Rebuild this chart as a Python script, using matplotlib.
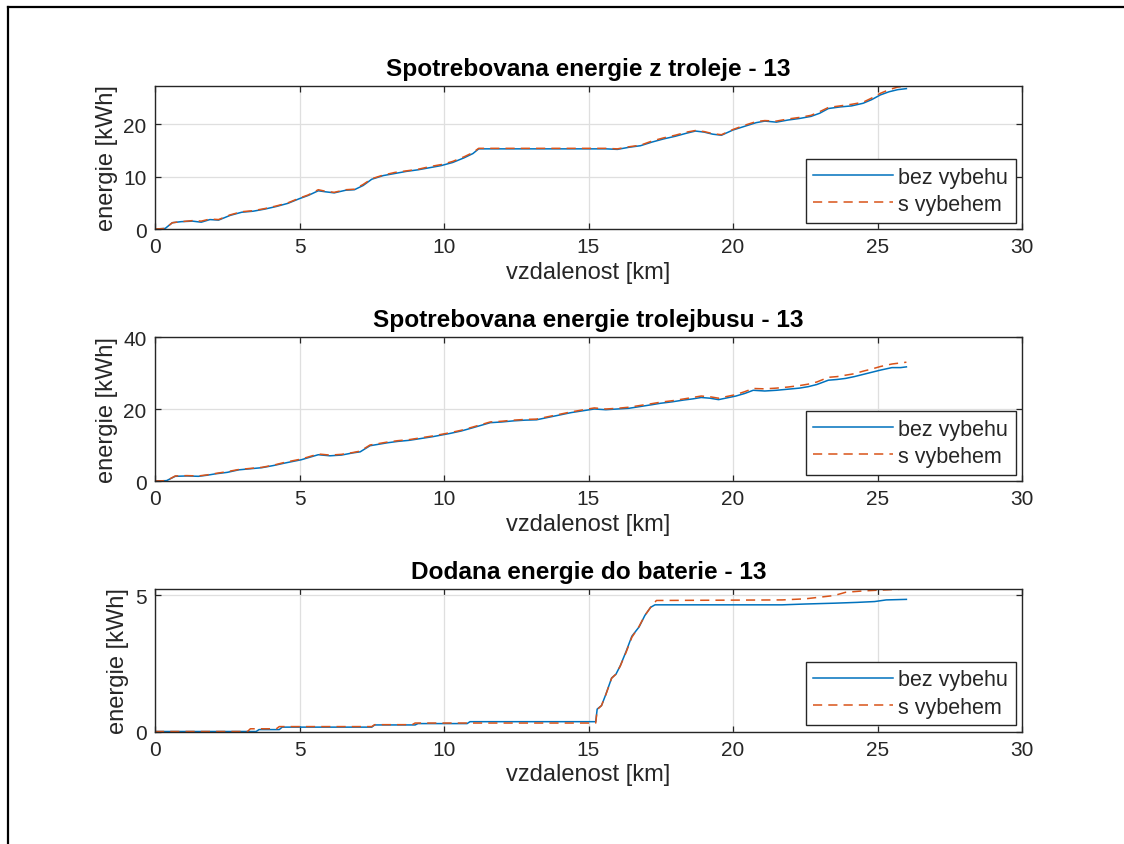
import matplotlib
matplotlib.use("Agg")
import matplotlib.pyplot as plt
from matplotlib.lines import Line2D

plt.rcParams['font.family'] = ['Liberation Sans', 'DejaVu Sans']

# --- Spotrebovana energie z troleje ---
km_a = [0, 0.35, 0.6, 0.9, 1.3, 1.6, 1.9, 2.2, 2.6, 3.0, 3.4, 3.8, 4.2, 4.6, 5.0, 5.3,
        5.65, 5.9, 6.2, 6.6, 6.9, 7.2, 7.5, 7.9, 8.3, 8.7, 9.1, 9.5, 9.9, 10.3, 10.7,
        11.0, 11.2, 12.0, 13.0, 14.0, 15.0, 15.6, 16.0, 16.4, 16.8, 17.2, 17.6, 18.0,
        18.4, 18.7, 19.0, 19.3, 19.6, 20.0, 20.4, 20.8, 21.1, 21.5, 21.9, 22.3, 22.7,
        23.0, 23.3, 23.7, 24.1, 24.5, 24.8, 25.1, 25.4, 25.7, 26.0]
troleje_bez = [0, 0.1, 1.2, 1.4, 1.5, 1.3, 1.8, 1.7, 2.6, 3.2, 3.4, 3.8, 4.3, 4.9, 5.8, 6.4,
               7.3, 7.1, 6.9, 7.4, 7.5, 8.3, 9.5, 10.2, 10.6, 11.0, 11.3, 11.7, 12.1, 12.7,
               13.6, 14.4, 15.3, 15.3, 15.3, 15.3, 15.3, 15.3, 15.2, 15.6, 15.9, 16.6, 17.2,
               17.7, 18.3, 18.7, 18.5, 18.1, 17.9, 18.9, 19.6, 20.3, 20.6, 20.4, 20.8, 21.1,
               21.5, 22.1, 23.0, 23.3, 23.5, 24.0, 24.7, 25.6, 26.2, 26.6, 26.8]
troleje_s = [0, 0.1, 1.2, 1.4, 1.6, 1.5, 1.9, 1.8, 2.7, 3.3, 3.5, 3.9, 4.4, 5.0, 5.9, 6.5,
             7.5, 7.2, 7.0, 7.5, 7.6, 8.5, 9.6, 10.3, 10.8, 11.1, 11.4, 11.9, 12.3, 12.9,
             13.8, 14.6, 15.4, 15.4, 15.4, 15.4, 15.4, 15.4, 15.3, 15.7, 16.0, 16.8, 17.4,
             17.9, 18.5, 18.8, 18.6, 18.2, 18.0, 19.0, 19.8, 20.5, 20.7, 20.6, 21.0, 21.3,
             21.7, 22.4, 23.2, 23.5, 23.8, 24.2, 25.0, 25.9, 26.6, 27.1, 27.3]

# --- Spotrebovana energie trolejbusu ---
km_b = [0, 0.4, 0.7, 1.1, 1.5, 1.8, 2.1, 2.5, 2.9, 3.3, 3.7, 4.1, 4.5, 5.06, 5.65, 6.05,
        6.45, 6.84, 7.1, 7.44, 8.03, 8.4, 8.8, 9.2, 9.6, 10.2, 10.6, 11.0, 11.6, 12.0,
        12.4, 12.8, 13.2, 13.8, 14.4, 15.2, 15.6, 16.0, 16.4, 16.8, 17.2, 17.5, 17.9,
        18.3, 18.6, 18.9, 19.2, 19.5, 20.1, 20.4, 20.7, 21.1, 21.5, 21.9, 22.3, 22.6,
        22.9, 23.3, 23.6, 23.9, 24.2, 24.5, 24.8, 25.1, 25.5, 25.8, 26.0]
bus_bez = [0, 0.1, 1.3, 1.4, 1.3, 1.6, 2.0, 2.4, 3.1, 3.4, 3.7, 4.3, 5.0, 5.9, 7.3, 7.0,
           7.2, 7.8, 8.1, 9.8, 10.6, 11.0, 11.3, 11.8, 12.3, 13.2, 13.9, 14.8, 16.2, 16.4,
           16.7, 16.9, 17.0, 18.0, 19.0, 20.0, 19.8, 20.0, 20.2, 20.7, 21.2, 21.6, 22.0,
           22.5, 22.8, 23.2, 23.0, 22.6, 23.6, 24.3, 25.2, 25.0, 25.2, 25.5, 25.8, 26.2,
           26.8, 28.0, 28.2, 28.5, 29.0, 29.6, 30.2, 30.8, 31.5, 31.5, 31.7]
bus_s = [0, 0.1, 1.4, 1.5, 1.4, 1.7, 2.1, 2.6, 3.2, 3.5, 3.8, 4.4, 5.2, 6.1, 7.5, 7.2,
         7.4, 7.9, 8.3, 10.0, 10.8, 11.2, 11.5, 12.0, 12.5, 13.4, 14.1, 15.0, 16.4, 16.6,
         16.9, 17.1, 17.2, 18.2, 19.2, 20.3, 20.0, 20.2, 20.5, 21.0, 21.5, 21.9, 22.3,
         22.8, 23.2, 23.6, 23.4, 23.0, 24.0, 24.8, 25.7, 25.6, 25.8, 26.1, 26.5, 26.9,
         27.5, 28.8, 29.0, 29.4, 29.8, 30.5, 31.1, 31.8, 32.5, 32.8, 33.0]

# --- Dodana energie do baterie ---
km_c_bez = [0, 3.5, 3.6, 4.3, 4.4, 7.5, 7.6, 9.0, 9.1, 10.8, 10.9, 15.25, 15.3, 15.45,
            15.6, 15.8, 15.95, 16.1, 16.3, 16.5, 16.75, 16.95, 17.15, 17.3, 21.7, 22.5,
            23.5, 24.3, 24.9, 25.3, 26.0]
baterie_bez = [0, 0, 0.07, 0.07, 0.16, 0.16, 0.24, 0.24, 0.29, 0.29, 0.36, 0.36, 0.82,
               0.95, 1.36, 1.96, 2.1, 2.41, 2.93, 3.49, 3.83, 4.25, 4.55, 4.64, 4.64,
               4.67, 4.7, 4.73, 4.76, 4.82, 4.84]
km_c_s = [0, 3.2, 3.3, 4.2, 4.3, 7.5, 7.6, 8.9, 9.0, 15.25, 15.3, 15.45, 15.6, 15.8,
          15.95, 16.1, 16.3, 16.5, 16.75, 16.95, 17.15, 17.35, 21.7, 22.5, 23.0, 23.5,
          23.9, 24.5, 25.1, 26.0]
baterie_s = [0, 0, 0.1, 0.1, 0.18, 0.18, 0.25, 0.25, 0.31, 0.31, 0.80, 0.95, 1.35, 1.95,
             2.1, 2.4, 2.9, 3.45, 3.85, 4.25, 4.55, 4.8, 4.82, 4.86, 4.92, 4.98, 5.1,
             5.15, 5.18, 5.22]

titles = ["Spotrebovana energie z troleje - 13",
          "Spotrebovana energie trolejbusu - 13",
          "Dodana energie do baterie - 13"]
series_labels = ["bez vybehu", "s vybehem"]
xticks = [0, 5, 10, 15, 20, 25, 30]
yticks = [[0, 10, 20], [0, 20, 40], [0, 5]]
ytops = [max(troleje_s), 40, max(baterie_s)]

BLUE = "#0072BD"
ORANGE = "#D95319"
DARK = "#262626"

W, H = 1124, 845
fig = plt.figure(figsize=(W / 100, H / 100), dpi=100)

# axes boxes in pixel coordinates (left, top, right, bottom)
boxes = [(155, 87, 1022, 230), (155, 338, 1022, 482), (155, 590, 1022, 732.5)]
data = [(km_a, troleje_bez, km_a, troleje_s),
        (km_b, bus_bez, km_b, bus_s),
        (km_c_bez, baterie_bez, km_c_s, baterie_s)]

for i, (l, t, r, b) in enumerate(boxes):
    ax = fig.add_axes([l / W, 1 - b / H, (r - l) / W, (b - t) / H])
    x1, y1, x2, y2 = data[i]
    ax.plot(x1, y1, color=BLUE, lw=1.1, label=series_labels[0])
    ax.plot(x2, y2, color=ORANGE, lw=1.1, ls=(0, (6, 4)), label=series_labels[1])
    ax.set_xlim(0, 30)
    ax.set_ylim(0, ytops[i])
    ax.set_xticks(xticks)
    ax.set_yticks(yticks[i])
    ax.grid(True, color="#dfdfdf", lw=0.9)
    ax.set_axisbelow(True)
    for sp in ax.spines.values():
        sp.set_color(DARK)
        sp.set_linewidth(1.0)
    ax.tick_params(direction="in", top=True, right=True, length=4, width=0.9,
                   colors=DARK, labelsize=15, pad=6)
    ax.set_title(titles[i], fontsize=17.6, fontweight="bold", color="black", pad=8)
    ax.set_xlabel("vzdalenost [km]", fontsize=17, color=DARK, labelpad=3)
    ax.set_ylabel("energie [kWh]", fontsize=17, color=DARK, labelpad=4)
    leg = ax.legend(loc="lower right", fontsize=15.5, fancybox=False, framealpha=1,
                    edgecolor=DARK, borderaxespad=0.3, handlelength=3.7,
                    handletextpad=0.25, labelspacing=0.3, borderpad=0.35)
    leg.get_frame().set_linewidth(1.0)
    for txt in leg.get_texts():
        txt.set_color(DARK)

# figure frame on top and left edges
fig.add_artist(Line2D([8 / W, 1], [1 - 8 / H, 1 - 8 / H], color="black", lw=1.6,
                      transform=fig.transFigure))
fig.add_artist(Line2D([8 / W, 8 / W], [0, 1 - 8 / H], color="black", lw=1.6,
                      transform=fig.transFigure))

fig.savefig("out.png", dpi=100, facecolor="white")
